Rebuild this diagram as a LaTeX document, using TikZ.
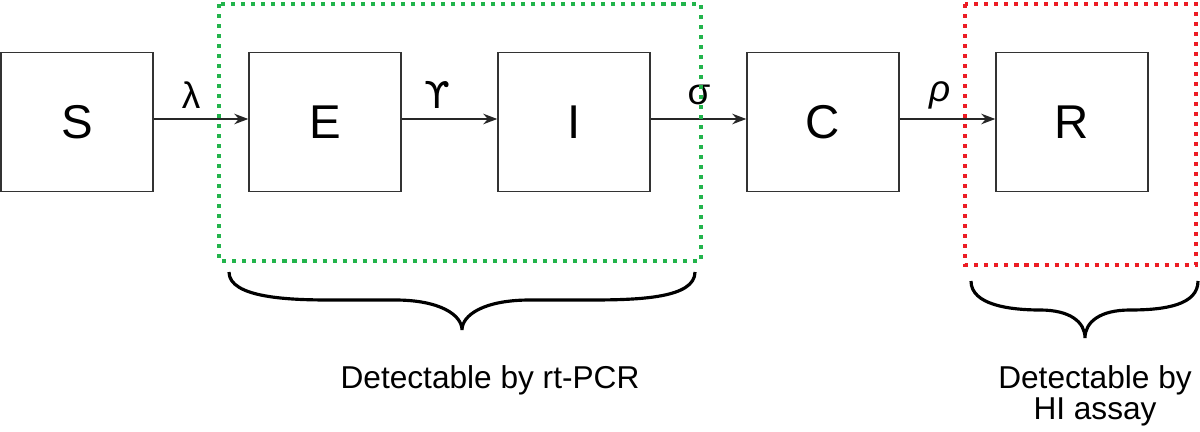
\documentclass[tikz,border=0pt]{standalone}
\usepackage{fontspec}
\setmainfont{Liberation Sans}
\newfontfamily\djv{DejaVu Sans}
\usetikzlibrary{arrows.meta}
\definecolor{grn}{RGB}{34,180,76}
\definecolor{rd}{RGB}{236,28,36}
\begin{document}
\begin{tikzpicture}[x=0.02cm,y=-0.02cm,
  box/.style={draw=black!80,line width=0.8pt,minimum width=152*0.02cm,minimum height=139*0.02cm,inner sep=0pt,font=\fontsize{27}{30}\selectfont},
  flow/.style={draw=black!85,line width=0.7pt,-{Stealth[length=8pt,width=6pt]}},
  rate/.style={font=\fontsize{21}{24}\selectfont},
  zone/.style={line width=2.3pt,dash pattern=on 2.3pt off 3.4pt},
  brace/.style={line width=1.8pt,black},
  lbl/.style={font=\fontsize{18}{18}\selectfont,align=center}]
\useasboundingbox (0,0) rectangle (1200,432);
\node[box] (S) at (77,122) {S};
\node[box] (E) at (325,122) {E};
\node[box] (I) at (574,122) {I};
\node[box] (C) at (823,122) {C};
\node[box] (R) at (1072,122) {R};
\draw[flow] (S.east |- 0,119) -- (E.west |- 0,119);
\draw[flow] (E.east |- 0,119) -- (I.west |- 0,119);
\draw[flow] (I.east |- 0,119) -- (C.west |- 0,119);
\draw[flow] (C.east |- 0,119) -- (R.west |- 0,119);
\node[rate] (l1) at (191,95) {λ};
\node[rate] (l2) at (437,95) {\djv ϒ};
\node[rate] (l3) at (699,95) {σ};
\node[rate] (l4) at (940,95) {\itshape ρ};
\draw[zone,grn] (219,4) rectangle (701,261);
\draw[zone,rd] (965,4) rectangle (1196,265);
\draw[brace] (229,272) .. controls (229,298) and (290,300) .. (330,300)
  -- (395,300) .. controls (440,300) and (462,315) .. (462,330)
  .. controls (462,315) and (484,300) .. (530,300)
  -- (590,300) .. controls (640,300) and (695,298) .. (695,272);
\draw[brace] (971,281) .. controls (971,305) and (1010,310) .. (1040,310)
  .. controls (1070,310) and (1085,322) .. (1085,338)
  .. controls (1085,322) and (1100,310) .. (1130,310)
  .. controls (1165,310) and (1198,305) .. (1198,281);
\node[lbl] (t1) at (490,380) {Detectable by rt-PCR};
\node[lbl] (t2) at (1095,396) {Detectable by\\HI assay};
\end{tikzpicture}
\end{document}
